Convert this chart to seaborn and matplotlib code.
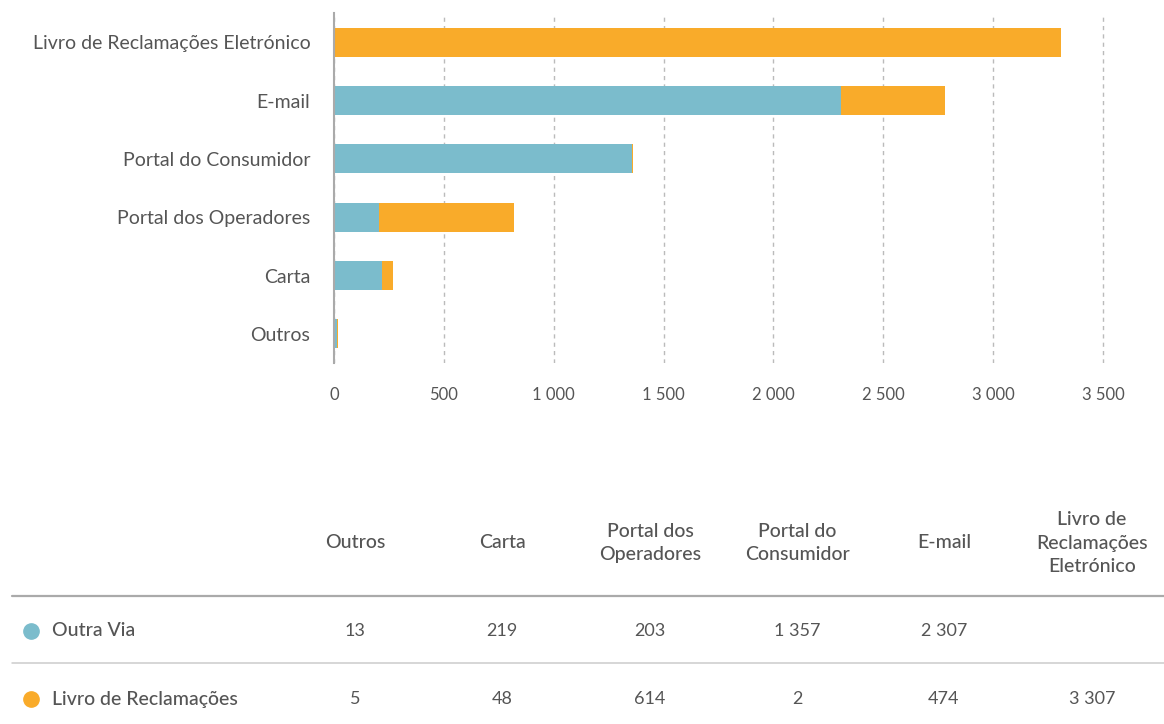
import numpy as np
import pandas as pd
import matplotlib
matplotlib.use('Agg')
import matplotlib.pyplot as plt
from matplotlib.lines import Line2D
from matplotlib.ticker import FuncFormatter
import seaborn as sns

# canais, na ordem da tabela
canais = ['Outros', 'Carta', 'Portal dos Operadores', 'Portal do Consumidor',
          'E-mail', 'Livro de Reclamações Eletrónico']
cabecalhos = ['Outros', 'Carta', 'Portal dos\nOperadores', 'Portal do\nConsumidor',
              'E-mail', 'Livro de\nReclamações\nEletrónico']
outra_via = [13, 219, 203, 1357, 2307, 0]
livro_reclamacoes = [5, 48, 614, 2, 474, 3307]
series = ['Outra Via', 'Livro de Reclamações']
x_ticks = [0, 500, 1000, 1500, 2000, 2500, 3000, 3500]

TEAL = '#7bbccc'
ORANGE = '#f9ab2a'
TXT = '#555555'

sns.set_style('white')
plt.rcParams['font.family'] = ['Lato', 'DejaVu Sans']

W, H = 1164, 724
fig = plt.figure(figsize=(W / 100, H / 100), dpi=100)


def fx(x):
    return x / W


def fy(y):
    return 1 - y / H


df = pd.DataFrame({'canal': canais, 'outra': outra_via, 'livro': livro_reclamacoes})
df['total'] = df['outra'] + df['livro']
ordem = canais[::-1]

XMAX = 3520
x_right = 334 + (1103 - 334) * XMAX / 3500
ax = fig.add_axes([fx(334), fy(363), fx(x_right) - fx(334), (363 - 13) / H])
sns.barplot(data=df, y='canal', x='total', order=ordem, color=ORANGE, saturation=1,
            width=0.5, orient='h', linewidth=0, ax=ax)
sns.barplot(data=df, y='canal', x='outra', order=ordem, color=TEAL, saturation=1,
            width=0.5, orient='h', linewidth=0, ax=ax)

ax.set_xlim(0, XMAX)
ax.set_ylim(5.5, -0.5)
ax.set_xticks(x_ticks)
ax.xaxis.set_major_formatter(FuncFormatter(lambda v, p: f'{v:,.0f}'.replace(',', ' ')))
ax.set_xlabel('')
ax.set_ylabel('')
ax.xaxis.grid(True, linestyle=(0, (3, 3)), color='#bbbbbb', linewidth=1)
ax.yaxis.grid(False)
ax.set_axisbelow(True)
for s in ['top', 'right', 'bottom']:
    ax.spines[s].set_visible(False)
ax.spines['left'].set_color('#aaaaaa')
ax.spines['left'].set_linewidth(1.5)
ax.spines['left'].set_zorder(5)
ax.tick_params(axis='x', length=0, pad=17, labelsize=12, labelcolor=TXT)
ax.tick_params(axis='y', length=0, pad=17, labelsize=14, labelcolor=TXT)

# tabela de dados
col_x = [355, 502, 650, 797, 944, 1092]
for cx, cab in zip(col_x, cabecalhos):
    fig.text(fx(cx), fy(543), cab, ha='center', va='center', fontsize=14,
             color=TXT, linespacing=1.45, fontweight='medium')

fig.add_artist(Line2D([fx(12), 1], [fy(596), fy(596)], color='#aaaaaa', linewidth=1.6))
fig.add_artist(Line2D([fx(12), 1], [fy(663), fy(663)], color='#cccccc', linewidth=1.1))

for yy, nome, cor, vals in [(631, series[0], TEAL, outra_via),
                            (699, series[1], ORANGE, livro_reclamacoes)]:
    fig.add_artist(Line2D([fx(31)], [fy(yy)], marker='o', markersize=11,
                          color=cor, linestyle='none'))
    fig.text(fx(52), fy(yy), nome, ha='left', va='center', fontsize=14,
             color=TXT, fontweight='medium')
    for cx, v in zip(col_x, vals):
        if nome == 'Outra Via' and v == 0:
            continue
        fig.text(fx(cx), fy(yy), f'{v:,}'.replace(',', ' '), ha='center', va='center',
                 fontsize=13, color=TXT, fontweight='normal')

fig.savefig('out.png', dpi=100)
